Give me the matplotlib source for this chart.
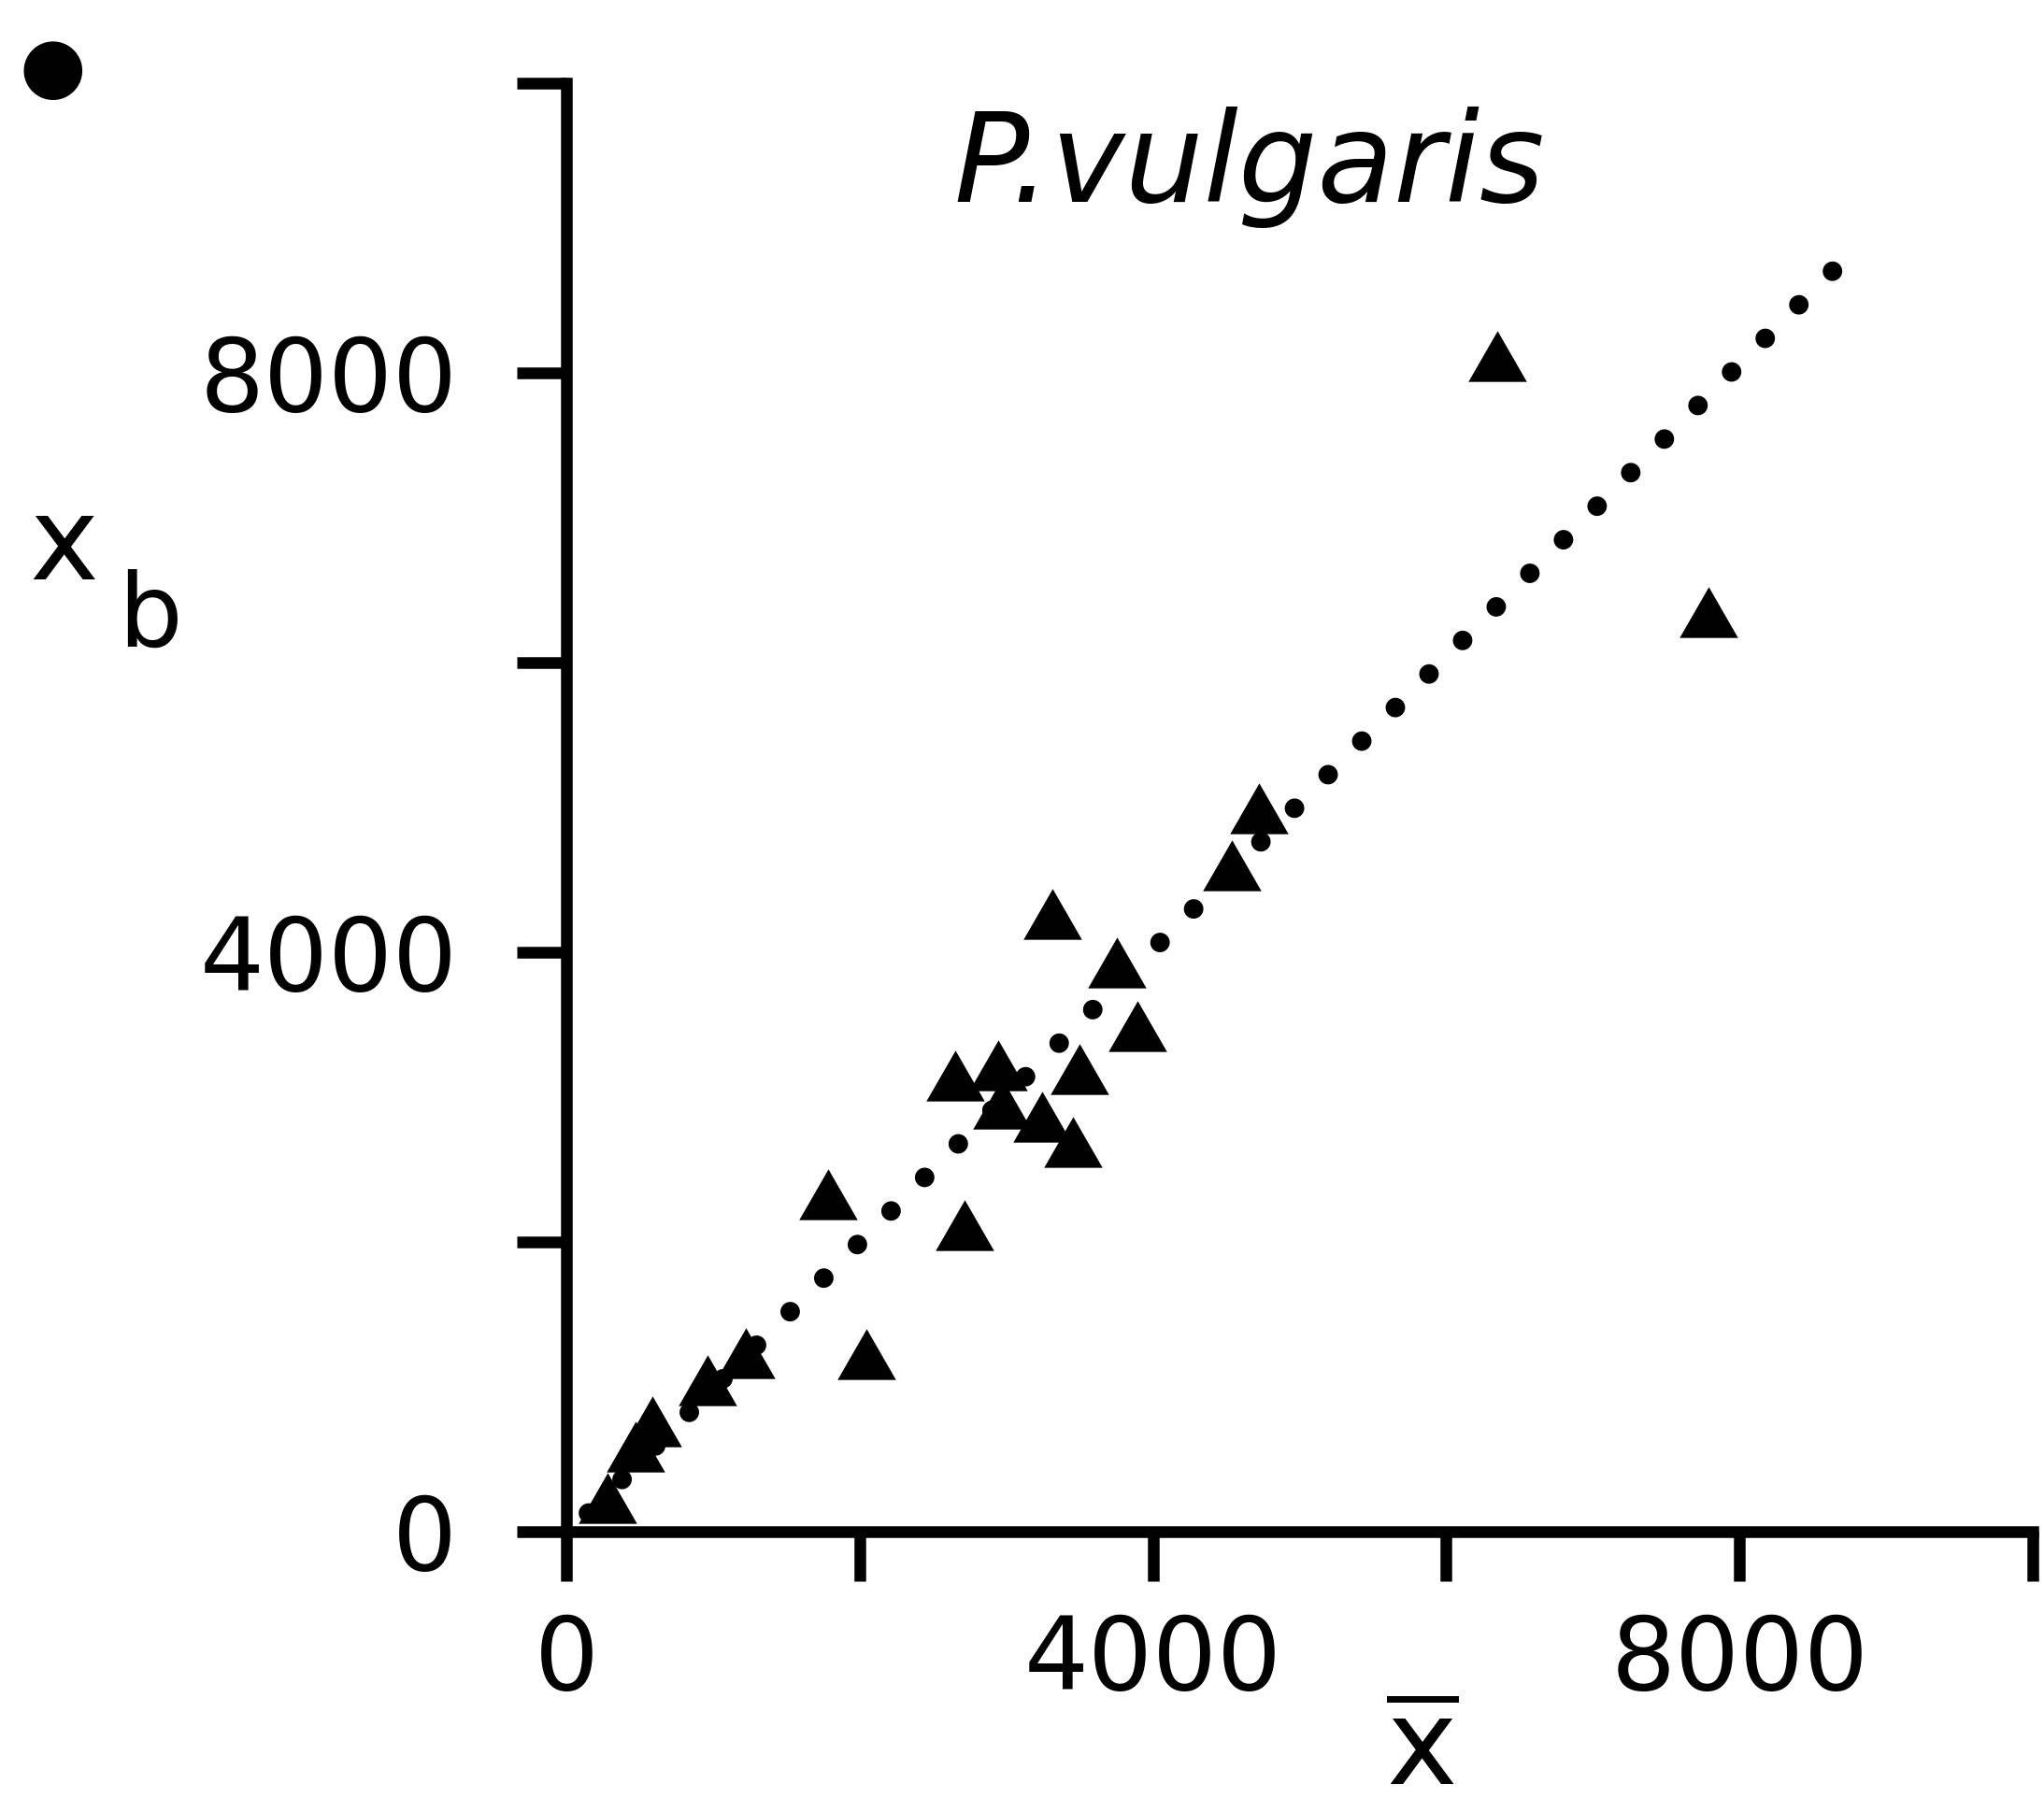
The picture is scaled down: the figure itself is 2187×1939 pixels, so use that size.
import matplotlib
matplotlib.use("Agg")
import matplotlib.pyplot as plt
from matplotlib.ticker import FixedLocator, NullFormatter

# ---- data ----
x_mean = [3317, 3756, 3896, 2651, 2944, 3496, 2969, 3243, 3454, 1783, 2716,
          2044, 1226, 960, 588, 472, 280, 4538, 4722, 6347, 7788]
x_b = [4265, 3929, 3488, 3146, 3218, 3195, 2958, 2866, 2692, 2329, 2116,
       1224, 1234, 1047, 761, 587, 234, 4600, 4994, 8119, 6349]

fit_x = [150, 8674]
fit_y = [128, 8742]

major_ticks = [0, 4000, 8000]
minor_ticks = [2000, 6000, 10000]
tick_labels = ["0", "4000", "8000"]
title = "P.vulgaris"

W, H, DPI = 2187, 1939, 100
fig = plt.figure(figsize=(W / DPI, H / DPI), dpi=DPI)
fig.patch.set_facecolor("white")

ax = fig.add_axes([606 / W, 300 / H, 1569 / W, 1550 / H])
ax.set_xlim(0, 10000)
ax.set_ylim(0, 10000)
ax.set_facecolor("white")

# regression (dotted) line
ax.plot(fit_x, fit_y, color="black", lw=15.0, linestyle=(0, (0.01, 2.43)),
        dash_capstyle="round", solid_capstyle="round", zorder=2)

# triangles (slightly wider than tall)
tri = [(-1.15, -1.0), (1.15, -1.0), (0.0, 1.0), (-1.15, -1.0)]
ax.plot(x_mean, x_b, linestyle="none", marker=tri, markersize=45,
        color="black", markeredgewidth=0, zorder=3, clip_on=False)

for side in ("top", "right"):
    ax.spines[side].set_visible(False)
for side in ("left", "bottom"):
    ax.spines[side].set_linewidth(9)
    ax.spines[side].set_color("black")

ax.xaxis.set_major_locator(FixedLocator(major_ticks))
ax.yaxis.set_major_locator(FixedLocator(major_ticks))
ax.xaxis.set_minor_locator(FixedLocator(minor_ticks))
ax.yaxis.set_minor_locator(FixedLocator(minor_ticks))
ax.set_xticklabels(tick_labels)
ax.set_yticklabels(tick_labels)
ax.xaxis.set_minor_formatter(NullFormatter())
ax.yaxis.set_minor_formatter(NullFormatter())

ax.tick_params(axis="both", which="both", direction="out", length=38,
               width=9, color="black")
ax.tick_params(axis="x", which="major", labelsize=78, pad=24)
ax.tick_params(axis="y", which="major", labelsize=78, pad=46)

# title
fig.text(1337 / W, 1 - 216 / H, title, fontsize=96, style="italic",
         ha="center", va="baseline")

# y label: x with offset b
fig.text(68.5 / W, 1 - 620 / H, "x", fontsize=90, ha="center", va="baseline")
fig.text(160 / W, 1 - 692 / H, "b", fontsize=78, ha="center", va="baseline")

# x label: x-bar
fig.text(1522 / W, 1 - 1938 / H, r"$\overline{\mathrm{x}}$", fontsize=92,
         ha="center", va="bottom")

# panel bullet
fig.text(56.7 / W, 1 - 74.7 / H, "\u25CF", fontsize=59, ha="center",
         va="center")

fig.savefig("out.png", dpi=DPI, facecolor="white")
